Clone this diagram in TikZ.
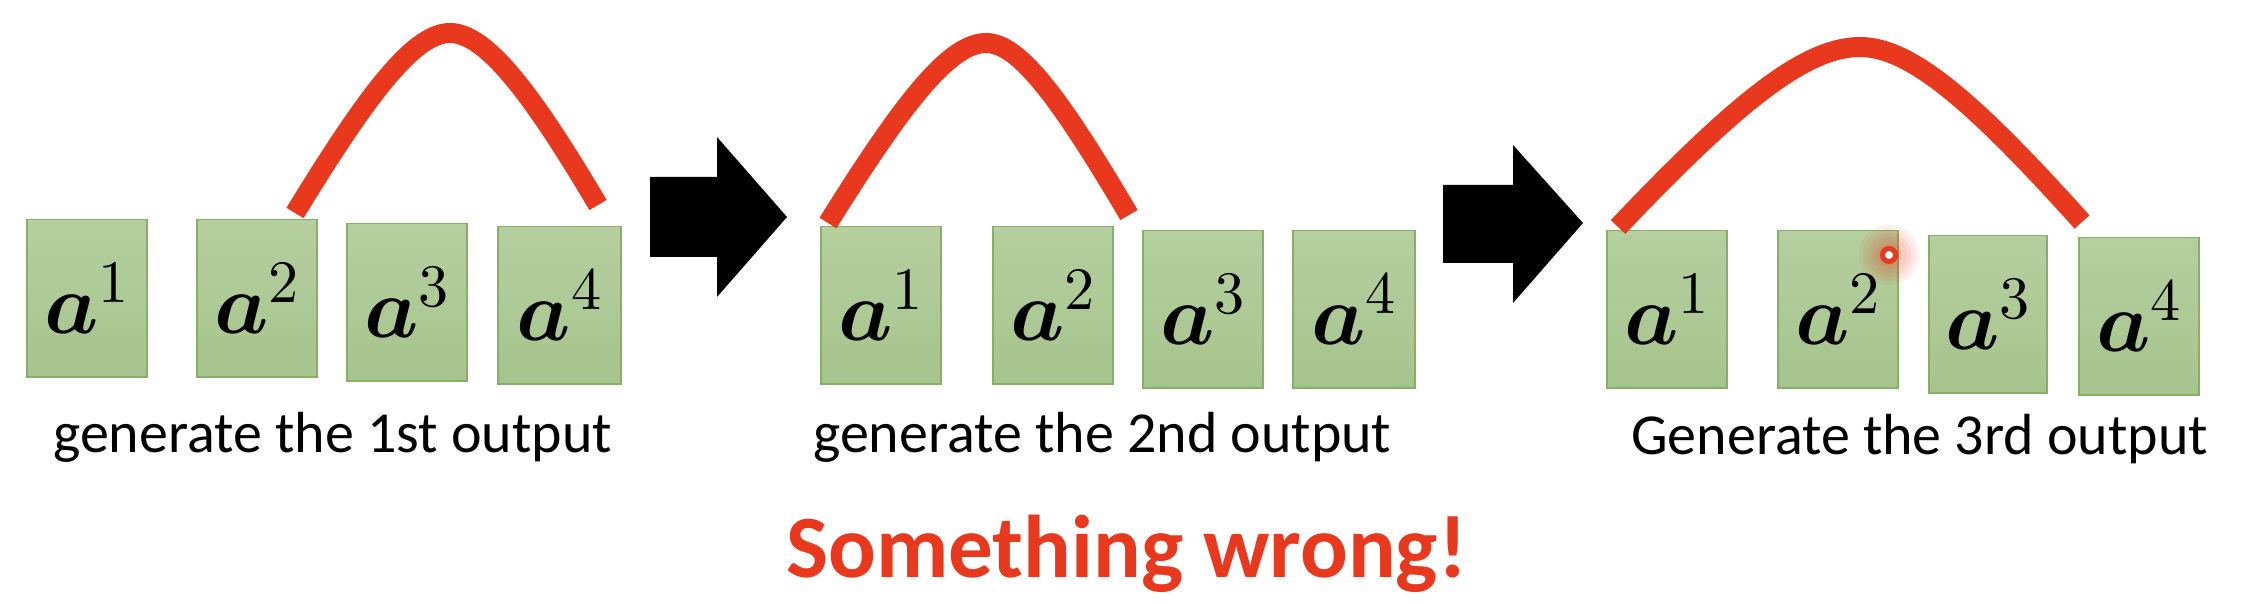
\documentclass[tikz,border=0pt]{standalone}
\usepackage{fontspec}
\usepackage{unicode-math}
\setmainfont{Carlito}
\setmathfont{Latin Modern Math}
\definecolor{boxtop}{HTML}{B5CF9F}
\definecolor{boxbot}{HTML}{A6C48D}
\definecolor{boxline}{HTML}{86B066}
\definecolor{redline}{HTML}{E8381E}
\tikzset{
  abox/.style={draw=boxline, line width=1.5pt, top color=boxtop, bottom color=boxbot,
    minimum width=120pt, minimum height=157pt, inner sep=0pt, anchor=north west,
    font=\fontsize{86}{88}\selectfont},
  arch/.style={draw=redline, line width=20pt, line cap=butt},
  caption/.style={anchor=base west, inner sep=0pt, font=\fontsize{58}{60}\selectfont, text=black},
  bigarrow/.style={fill=black},
  warn/.style={anchor=base west, inner sep=0pt, font=\fontsize{89}{90}\selectfont\bfseries, text=redline}
}
\newcommand{\alab}[1]{$\symbfit{a}^{#1}$}
\begin{document}
\begin{tikzpicture}[x=1pt,y=-1pt]
\useasboundingbox (0,0) rectangle (2244,604);
% group 1
\node[abox] (g1a1) at (26,219) {\alab{1}};
\node[abox] (g1a2) at (196,219) {\alab{2}};
\node[abox] (g1a3) at (346,223) {\alab{3}};
\node[abox, minimum width=123pt] (g1a4) at (497,226) {\alab{4}};
\node[caption] (t1) at (53,452) {generate the 1st output};
\coordinate (c1s) at (295,213);
\coordinate (c1p) at (450,33);
\coordinate (c1e) at (598,205);
\draw[arch] (c1s) .. controls (370,90) and (415,33) .. (c1p) .. controls (485,33) and (530,90) .. (c1e);
% arrow 1
\fill[bigarrow] (650,177) -- (717,177) -- (717,137) -- (787,217) -- (717,297) -- (717,257) -- (650,257) -- cycle;
% group 2
\node[abox] (g2a1) at (820,226) {\alab{1}};
\node[abox] (g2a2) at (992,226) {\alab{2}};
\node[abox] (g2a3) at (1142,230) {\alab{3}};
\node[abox, minimum width=122pt] (g2a4) at (1292,230) {\alab{4}};
\node[caption] (t2) at (813,452) {generate the 2nd output};
\coordinate (c2s) at (828,223);
\coordinate (c2p) at (986,43);
\coordinate (c2e) at (1129,215);
\draw[arch] (c2s) .. controls (904,101) and (950,43) .. (c2p) .. controls (1019,43) and (1060,98) .. (c2e);
% arrow 2
\fill[bigarrow] (1443,185) -- (1513,185) -- (1513,145) -- (1583,223) -- (1513,303) -- (1513,263) -- (1443,263) -- cycle;
% group 3
\node[abox] (g3a1) at (1606,230) {\alab{1}};
\node[abox] (g3a2) at (1777,230) {\alab{2}};
\node[abox, minimum width=118pt] (g3a3) at (1928,235) {\alab{3}};
\node[abox] (g3a4) at (2078,237) {\alab{4}};
\node[caption] (t3) at (1631,454) {Generate the 3rd output};
\coordinate (c3s) at (1618,227);
\coordinate (c3p) at (1860,47);
\coordinate (c3e) at (2082,222);
\draw[arch] (c3s) .. controls (1734,105) and (1804,47) .. (c3p) .. controls (1911,47) and (1975,103) .. (c3e);
% pointer dot
\coordinate (dot) at (1889,255);
\foreach \r in {30,26,22,18,14,11} {\fill[redline, opacity=0.07] (dot) circle (\r);}
\draw[redline, line width=5pt, fill=white] (dot) circle (6.5);
% warning
\node[warn] (w) at (786,577) {Something wrong!};
\end{tikzpicture}
\end{document}
